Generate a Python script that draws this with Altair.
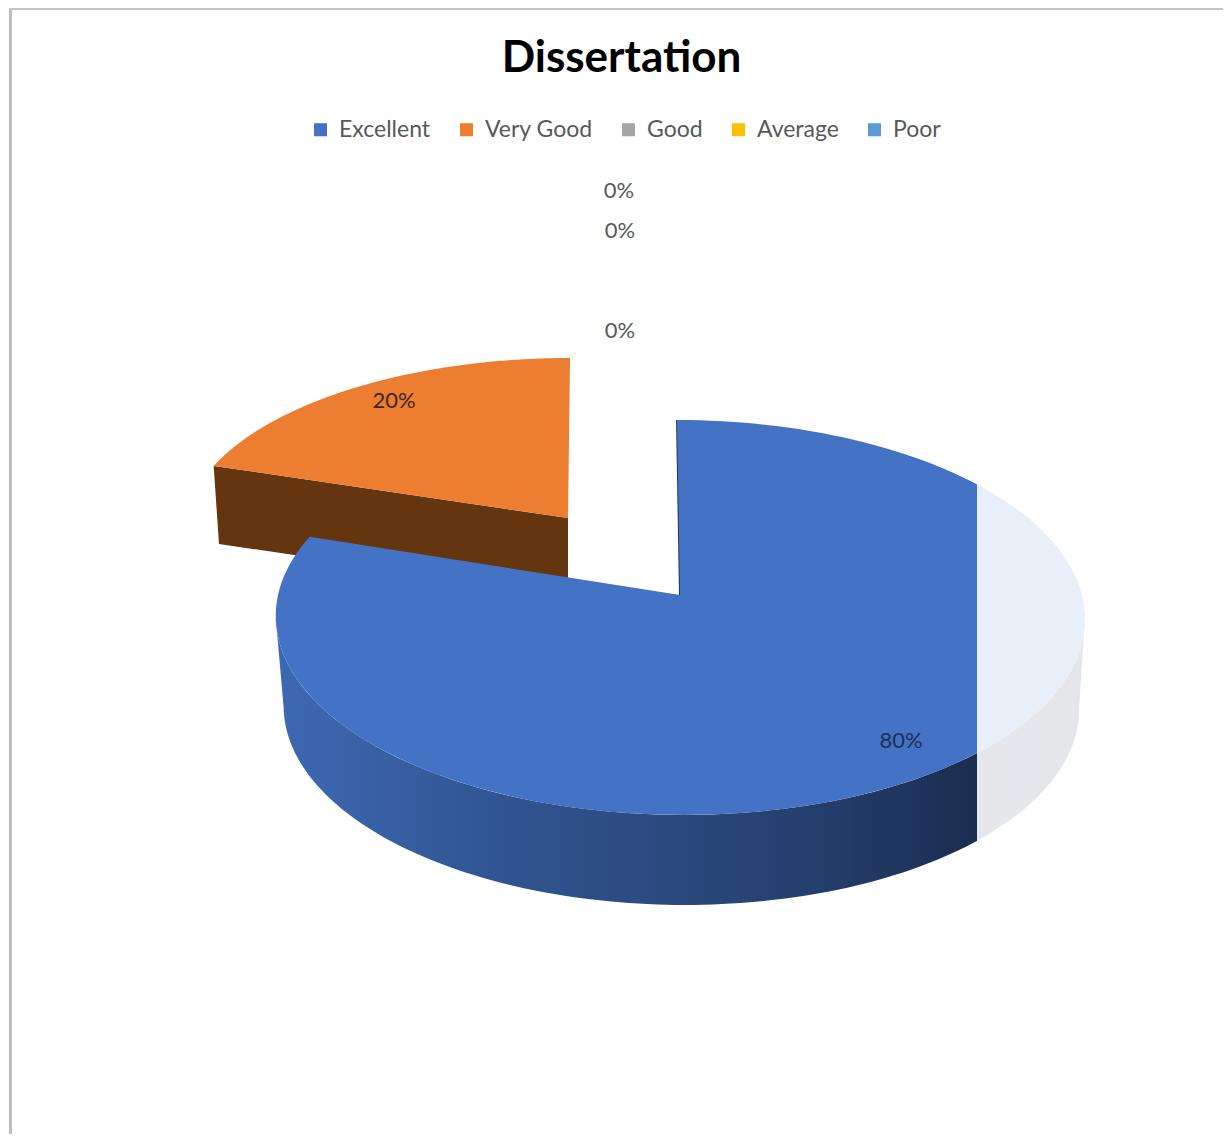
import math
import altair as alt
import pandas as pd

CATEGORIES = ["Excellent", "Very Good", "Good", "Average", "Poor"]
VALUES = [80, 20, 0, 0, 0]
COLORS = ["#4472C4", "#ED7D31", "#A5A5A5", "#FFC000", "#5B9BD5"]
TITLE = "Dissertation"

# label anchors in picture pixels, one per category
LABEL_X = [901, 394, 620, 620, 619]
LABEL_Y = [741, 401, 331, 231, 191]
LABEL_COLOR = ["#1F2F55", "#3A2A1A", "#595959", "#595959", "#595959"]

# perspective frames: tip position, half axes, perspective, shear, depth
MAIN = dict(x0=680, y0=595, A=402, B=194.9, k=0.1139, s=-3.3, dx=1, dy=90, shrink=0.983)
EXPLODED = dict(x0=568, y0=518, A=382.5, B=172.8, k=0.08, s=2.2, dx=0, dy=78, shrink=0.985)
FRAMES = {"Excellent": MAIN, "Very Good": EXPLODED}


def project(f, deg, r=1.0, lower=False):
    t = math.radians(deg)
    den = 1 + f["k"] * r * math.cos(t)
    gx = r * math.sin(t)
    gy = r * math.cos(t)
    scale = f["shrink"] if lower else 1.0
    x = f["x0"] + (f["A"] * scale * gx + f["s"] * gy) / den
    y = f["y0"] - f["B"] * gy / den
    if lower:
        x += f["dx"]
        y += f["dy"]
    return x, y


def frange(a, b, n):
    return [a + (b - a) * i / n for i in range(n + 1)]


tops = []
cum = 0.0
total = sum(VALUES)
spans = {}
for cat, v in zip(CATEGORIES, VALUES):
    a = cum / total * 360
    cum += v
    b = cum / total * 360
    spans[cat] = (a, b)
    if v == 0:
        continue
    f = FRAMES[cat]
    pts = [project(f, a, 0.0)] + [project(f, d) for d in frange(a, b, 160)]
    for i, (x, y) in enumerate(pts):
        tops.append(dict(cat=cat, x=x, y=y, o=i))

# outer wall of the large slice, front half only
a, b = spans["Excellent"]
edge = math.degrees(math.acos(-MAIN["k"]))
front = frange(edge, min(b, 360 - edge), 140)
wall_pts = [project(MAIN, d) for d in front] + [project(MAIN, d, lower=True) for d in reversed(front)]
wall_df = pd.DataFrame([dict(x=x, y=y, o=i) for i, (x, y) in enumerate(wall_pts)])

# cut face of the exploded slice
a, b = spans["Very Good"]
cut = [project(EXPLODED, a), project(EXPLODED, a, 0.0), project(EXPLODED, a, 0.0, lower=True), project(EXPLODED, a, lower=True)]
cut_df = pd.DataFrame([dict(x=x, y=y, o=i) for i, (x, y) in enumerate(cut)])

# sliver of the large slice's cut face beside the tip
sliver = [project(MAIN, 0, 0.0), project(MAIN, 0, 0.75), project(MAIN, 0, 1.0)]
sliver_df = pd.DataFrame([dict(x=x, y=y, o=i) for i, (x, y) in enumerate(sliver)])

x_scale = alt.Scale(domain=[8, 1223], nice=False, zero=False)
y_scale = alt.Scale(domain=[1134, 8], nice=False, zero=False)
X = alt.X("x:Q", scale=x_scale, axis=None)
Y = alt.Y("y:Q", scale=y_scale, axis=None)
ORDER = alt.Order("o:Q")

cut_layer = alt.Chart(cut_df).mark_line(
    filled=True, fill="#65350F", strokeWidth=0, interpolate="linear-closed"
).encode(x=X, y=Y, order=ORDER)

wall_layer = alt.Chart(wall_df).mark_line(
    filled=True,
    strokeWidth=0,
    interpolate="linear-closed",
    fill=alt.Gradient(
        gradient="linear", x1=0, x2=1, y1=0, y2=0,
        stops=[
            alt.GradientStop(color="#3D69B3", offset=0),
            alt.GradientStop(color="#30538F", offset=0.3),
            alt.GradientStop(color="#25406F", offset=0.65),
            alt.GradientStop(color="#1A2D50", offset=0.87),
            alt.GradientStop(color="#17284A", offset=1),
        ],
    ),
).encode(x=X, y=Y, order=ORDER)

top_layer = alt.Chart(pd.DataFrame(tops)).mark_line(
    filled=True, strokeWidth=0, interpolate="linear-closed"
).encode(
    x=X, y=Y, order=ORDER,
    color=alt.Color(
        "cat:N",
        scale=alt.Scale(domain=CATEGORIES, range=COLORS),
        sort=CATEGORIES,
        legend=alt.Legend(
            title=None,
            orient="none",
            direction="horizontal",
            columns=5,
            legendX=301,
            legendY=110,
            symbolType="square",
            symbolSize=170,
            symbolStrokeWidth=0,
            labelFont="Lato",
            labelFontSize=23,
            labelColor="#595959",
            labelOffset=7,
            columnPadding=24,
        ),
    ),
)

sliver_layer = alt.Chart(sliver_df).mark_line(color="#1F3864", strokeWidth=2).encode(x=X, y=Y, order=ORDER)

wash_layer = alt.Chart(pd.DataFrame({"x": [977], "x2": [1120], "y": [450], "y2": [880]})).mark_rect(
    color="#FFFFFF", opacity=0.885
).encode(x=X, x2="x2:Q", y=Y, y2="y2:Q")

label_df = pd.DataFrame({
    "x": LABEL_X,
    "y": LABEL_Y,
    "t": [f"{v}%" for v in VALUES],
    "c": LABEL_COLOR,
})
label_layer = alt.Chart(label_df).mark_text(font="Lato", fontSize=22, align="center", baseline="middle").encode(
    x=X, y=Y, text="t:N", color=alt.Color("c:N", scale=None, legend=None)
)

border_left = alt.Chart(pd.DataFrame({"x": [10.5], "y": [8], "y2": [1134]})).mark_rule(
    color="#BDBDBD", strokeWidth=3
).encode(x=X, y=Y, y2="y2:Q")
border_top = alt.Chart(pd.DataFrame({"x": [10], "x2": [1223], "y": [8.5]})).mark_rule(
    color="#C4C4C4", strokeWidth=3
).encode(x=X, x2="x2:Q", y=Y)

chart = (
    alt.layer(
        border_left, border_top, cut_layer, wall_layer, sliver_layer, top_layer, wash_layer, label_layer
    )
    .resolve_scale(color="independent")
    .properties(
        width=1215,
        height=1126,
        padding=0,
        autosize=alt.AutoSizeParams(type="none"),
        title=alt.TitleParams(
            TITLE, font="Lato", fontSize=44, fontWeight="bold", color="#000000",
            anchor="middle", frame="group", dy=78, dx=6,
        ),
    )
    .configure_view(stroke=None)
)

chart.save("out.html", embed_options={"renderer": "svg", "actions": False})
